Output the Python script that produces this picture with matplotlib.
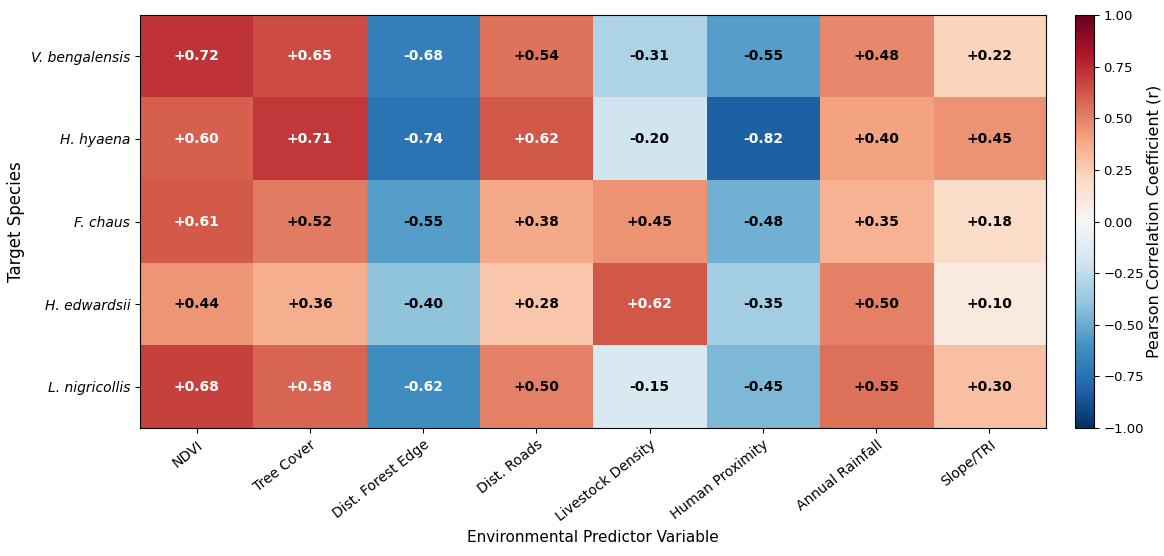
import numpy as np
import matplotlib
matplotlib.use('Agg')
import matplotlib.pyplot as plt

species = ['V. bengalensis', 'H. hyaena', 'F. chaus', 'H. edwardsii', 'L. nigricollis']
predictors = ['NDVI', 'Tree Cover', 'Dist. Forest Edge', 'Dist. Roads',
              'Livestock Density', 'Human Proximity', 'Annual Rainfall', 'Slope/TRI']

r_bengalensis = [0.72, 0.65, -0.68, 0.54, -0.31, -0.55, 0.48, 0.22]
r_hyaena = [0.60, 0.71, -0.74, 0.62, -0.20, -0.82, 0.40, 0.45]
r_chaus = [0.61, 0.52, -0.55, 0.38, 0.45, -0.48, 0.35, 0.18]
r_edwardsii = [0.44, 0.36, -0.40, 0.28, 0.62, -0.35, 0.50, 0.10]
r_nigricollis = [0.68, 0.58, -0.62, 0.50, -0.15, -0.45, 0.55, 0.30]

corr = np.array([r_bengalensis, r_hyaena, r_chaus, r_edwardsii, r_nigricollis])

fig = plt.figure(figsize=(11.64, 5.56), dpi=100)
ax = fig.add_axes([0.1203, 0.2302, 0.7784, 0.7428])
cax = fig.add_axes([0.9235, 0.2302, 0.0160, 0.7428])

im = ax.imshow(corr, cmap='RdBu_r', vmin=-1, vmax=1, aspect='auto')

#
# annotate cells
for i in range(corr.shape[0]):
    for j in range(corr.shape[1]):
        v = corr[i, j]
        color = 'white' if abs(v) > 0.56 else 'black'
        ax.text(j, i, f'{v:+.2f}', ha='center', va='center',
                color=color, fontsize=10, fontweight='bold')

ax.set_xticks(np.arange(len(predictors)))
ax.set_xticklabels(predictors, rotation=38, ha='right', rotation_mode='anchor', fontsize=10)
ax.set_yticks(np.arange(len(species)))
ax.set_yticklabels(species, fontstyle='italic', fontsize=10)
ax.set_xlabel('Environmental Predictor Variable', fontsize=11)
ax.set_ylabel('Target Species', fontsize=12)

cb = fig.colorbar(im, cax=cax)
cb.set_ticks(np.arange(-1, 1.01, 0.25))
cb.ax.tick_params(labelsize=9.5)
cb.set_label('Pearson Correlation Coefficient (r)', fontsize=11.5, labelpad=2)

fig.savefig('out.png', dpi=100)
